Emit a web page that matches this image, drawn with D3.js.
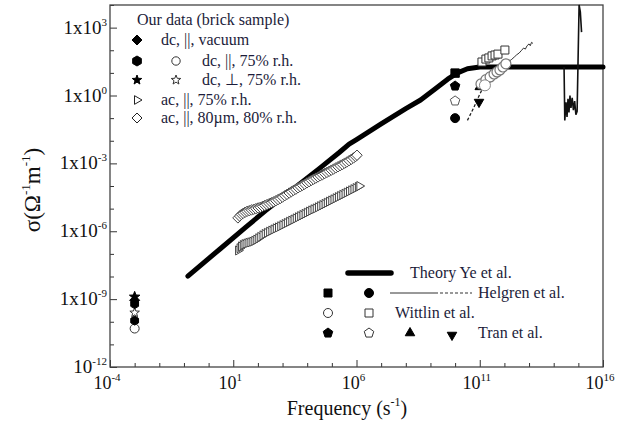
<!DOCTYPE html>
<html><head><meta charset="utf-8">
<script src="https://cdn.jsdelivr.net/npm/d3@7"></script>
<style>body{margin:0;background:#fff} text{font-family:"Liberation Serif","Times New Roman",serif;fill:#111}</style>
</head><body><svg id="c" width="622" height="425"></svg>
<script>
// ---- tick labels ----
const xTickExps = [-4, 1, 6, 11, 16];
const yTickExps = [3, 0, -3, -6, -9, -12];
const yTickPrefix = ["1x10", "1x10", "1x10", "1x10", "1x10", "10"];

// ---- data: [log10 frequency, log10 sigma] ----
const theory = [[-0.84,-7.98],[0.5,-6.75],[1.5,-5.83],[2.3,-5.10],[3.5,-4.08],[4.5,-3.22],[5.3,-2.52],[5.7,-2.15],[6.0,-1.95],[7.0,-1.25],[8.0,-0.58],[8.6,-0.20],[9.2,0.30],[9.7,0.72],[10.1,1.00],[10.5,1.18],[11.0,1.26],[14.45,1.26],[16.0,1.26]];
const theoryResonance = [[14.42,1.26],[14.45,-1.10],[14.50,-0.30],[14.54,-0.95],[14.58,-0.15],[14.62,-0.75],[14.66,0.0],[14.70,-0.55],[14.75,-0.10],[14.80,-0.65],[14.85,-0.25],[14.90,-0.85],[14.95,-0.70],[15.03,4.0],[15.08,3.7],[15.13,2.8]];
const helgrenSolid = [[11.40,0.95],[11.55,1.05],[11.70,1.18],[11.85,1.30],[12.00,1.38],[12.10,1.44],[12.20,1.52],[12.30,1.60],[12.40,1.70],[12.50,1.80],[12.60,1.88],[12.70,2.00],[12.78,2.10],[12.85,2.05],[12.92,2.20],[13.00,2.28],[13.05,2.20],[13.10,2.35],[13.16,2.30]];
const helgrenDashed = [[10.50,-1.10],[10.75,-0.55],[11.00,0.05],[11.20,0.50],[11.40,0.95]];
const ac80 = [[1.19,-5.41],[1.26,-5.33],[1.33,-5.26],[1.40,-5.21],[1.48,-5.16],[1.56,-5.12],[1.65,-5.09],[1.74,-5.06],[1.83,-5.03],[1.92,-5.00],[2.01,-4.97],[2.10,-4.94],[2.19,-4.90],[2.28,-4.86],[2.37,-4.82],[2.46,-4.78],[2.55,-4.74],[2.64,-4.70],[2.73,-4.65],[2.82,-4.60],[2.91,-4.55],[3.00,-4.49],[3.09,-4.43],[3.18,-4.37],[3.27,-4.31],[3.36,-4.25],[3.45,-4.19],[3.54,-4.14],[3.63,-4.08],[3.72,-4.03],[3.81,-3.97],[3.90,-3.92],[3.99,-3.86],[4.08,-3.81],[4.17,-3.75],[4.26,-3.70],[4.35,-3.65],[4.44,-3.60],[4.53,-3.55],[4.62,-3.50],[4.71,-3.45],[4.80,-3.40],[4.89,-3.35],[4.98,-3.30],[5.07,-3.25],[5.16,-3.20],[5.25,-3.15],[5.34,-3.10],[5.43,-3.05],[5.52,-2.99],[5.61,-2.94],[5.70,-2.88],[5.79,-2.82],[5.88,-2.76],[5.96,-2.70],[6.02,-2.64]];
const ac75 = [[1.20,-6.85],[1.26,-6.75],[1.32,-6.67],[1.39,-6.61],[1.46,-6.57],[1.54,-6.54],[1.62,-6.51],[1.70,-6.49],[1.78,-6.46],[1.86,-6.42],[1.94,-6.37],[2.02,-6.31],[2.10,-6.25],[2.19,-6.18],[2.28,-6.12],[2.37,-6.07],[2.46,-6.02],[2.55,-5.97],[2.64,-5.92],[2.73,-5.87],[2.82,-5.83],[2.91,-5.78],[3.00,-5.73],[3.09,-5.68],[3.18,-5.63],[3.27,-5.58],[3.36,-5.53],[3.45,-5.48],[3.54,-5.43],[3.63,-5.38],[3.72,-5.33],[3.81,-5.28],[3.90,-5.23],[3.99,-5.18],[4.08,-5.13],[4.17,-5.08],[4.26,-5.03],[4.35,-4.99],[4.44,-4.94],[4.53,-4.89],[4.62,-4.84],[4.71,-4.79],[4.80,-4.74],[4.89,-4.69],[4.98,-4.64],[5.07,-4.59],[5.16,-4.54],[5.25,-4.49],[5.34,-4.44],[5.43,-4.39],[5.52,-4.34],[5.61,-4.29],[5.70,-4.24],[5.79,-4.19],[5.88,-4.14],[5.97,-4.09],[6.06,-4.04],[6.12,-4.00]];
const dcVacuum = [[-3,-9.05]];
const dcPar75Filled = [[-3,-9.22],[-3,-9.95]];
const dcPar75Open = [[-3,-10.3]];
const dcPerp75Filled = [[-3,-8.9]];
const dcPerp75Open = [[-3,-9.6]];
const helgrenSquares = [[10.0,0.99]];
const helgrenCircles = [[10.0,-1.0]];
const wittlinCircles = [[11.05,0.51],[11.25,0.70],[11.42,0.82],[11.58,0.95],[11.70,1.04],[11.82,1.13],[11.94,1.26],[12.06,1.40]];
const wittlinBigCircle = [[11.21,0.45]];
const wittlinSquares = [[11.09,1.48],[11.25,1.61],[11.37,1.66],[11.50,1.75],[11.62,1.79],[11.74,1.83],[12.02,2.01]];
const tranFilledPent = [[10.0,0.42]];
const tranOpenPent = [[10.0,-0.24]];
const tranTriUp = [[11.0,0.38]];
const tranTriDown = [[10.97,-0.29]];

// ---- chart ----
const svg = d3.select("#c");
const L = 110, R = 603, T = 5, B = 367;
const x = d3.scaleLog().domain([1e-4, 1e16]).range([L, R]);
const y = d3.scaleLog().domain([1e-12, 1e4]).range([B, T]);
const px = d => x(Math.pow(10, d[0]));
const py = d => y(Math.pow(10, d[1]));

function shape(type, r) {
  const poly = (n, rot, inner) => {
    let p = [];
    const m = inner ? 2 * n : n;
    for (let i = 0; i < m; i++) {
      const a = rot + i * 2 * Math.PI / m;
      const rr = inner && i % 2 ? r * inner : r;
      p.push([rr * Math.cos(a), rr * Math.sin(a)]);
    }
    return "M" + p.map(q => q[0].toFixed(2) + "," + q[1].toFixed(2)).join("L") + "Z";
  };
  switch (type) {
    case "circle": return d3.symbol(d3.symbolCircle, Math.PI * r * r)();
    case "square": return `M${-r},${-r}H${r}V${r}H${-r}Z`;
    case "diamond": return `M0,${-r}L${r},0L0,${r}L${-r},0Z`;
    case "triUp": return poly(3, -Math.PI / 2);
    case "triDown": return poly(3, Math.PI / 2);
    case "triRight": return poly(3, 0);
    case "hex": return poly(6, Math.PI / 6);
    case "pent": return poly(5, -Math.PI / 2);
    case "star": return poly(5, -Math.PI / 2, 0.42);
  }
}
function marks(data, type, r, fill, stroke, sw) {
  svg.append("g").selectAll("path").data(data).join("path")
    .attr("d", shape(type, r))
    .attr("transform", d => `translate(${px(d)},${py(d)})`)
    .attr("fill", fill).attr("stroke", stroke).attr("stroke-width", sw || 1);
}

// axes (ticks inward)
const xAxis = d3.axisBottom(x).tickValues(d3.range(-4, 17).map(e => Math.pow(10, e))).tickSizeInner(-4).tickSizeOuter(0).tickFormat("");
const yAxis = d3.axisLeft(y).tickValues(d3.range(-12, 5).map(e => Math.pow(10, e))).tickSizeInner(-4).tickSizeOuter(0).tickFormat("");
const gx = svg.append("g").attr("transform", `translate(0,${B})`).call(xAxis);
const gy = svg.append("g").attr("transform", `translate(${L},0)`).call(yAxis);
[gx, gy].forEach(g => { g.select(".domain").remove(); g.selectAll("line").attr("stroke", "#333").attr("stroke-width", 1); });
gx.selectAll(".tick line").filter(d => xTickExps.includes(Math.round(Math.log10(d)))).attr("y2", -7);
gy.selectAll(".tick line").filter(d => yTickExps.includes(Math.round(Math.log10(d)))).attr("x2", 7);
svg.append("rect").attr("x", L).attr("y", T).attr("width", R - L).attr("height", B - T).attr("fill", "none").attr("stroke", "#444").attr("stroke-width", 1.3);

// x tick labels
xTickExps.forEach(e => {
  const t = svg.append("text").attr("x", x(Math.pow(10, e)) - 3).attr("y", 389).attr("text-anchor", "middle").attr("font-size", 18);
  t.append("tspan").text("10");
  t.append("tspan").attr("dy", -8).attr("font-size", 11).text(e);
});
// y tick labels
yTickExps.forEach((e, i) => {
  const t = svg.append("text").attr("x", 107).attr("y", y(Math.pow(10, e)) + 6).attr("text-anchor", "end").attr("font-size", 19);
  t.append("tspan").text(yTickPrefix[i]);
  t.append("tspan").attr("dy", -8).attr("font-size", 11).text(e);
});
// axis titles
const xt = svg.append("text").attr("x", 347).attr("y", 415).attr("text-anchor", "middle").attr("font-size", 20);
xt.append("tspan").text("Frequency (s");
xt.append("tspan").attr("dy", -9).attr("font-size", 12).text("-1");
xt.append("tspan").attr("dy", 9).text(")");
const yt = svg.append("text").attr("transform", "translate(40,190) rotate(-90)").attr("text-anchor", "middle").attr("font-size", 23);
yt.append("tspan").text("σ(Ω");
yt.append("tspan").attr("dy", -10).attr("font-size", 13).text("-1");
yt.append("tspan").attr("dy", 10).text("m");
yt.append("tspan").attr("dy", -10).attr("font-size", 13).text("-1");
yt.append("tspan").attr("dy", 10).text(")");

// lines
const line = d3.line().x(px).y(py);
svg.append("path").attr("d", line(theory)).attr("fill", "none").attr("stroke", "#000").attr("stroke-width", 5).attr("stroke-linejoin", "round").attr("stroke-linecap", "round");
svg.append("path").attr("d", line(theoryResonance)).attr("fill", "none").attr("stroke", "#111").attr("stroke-width", 1.6);
svg.append("path").attr("d", line(helgrenDashed)).attr("fill", "none").attr("stroke", "#222").attr("stroke-width", 1.3).attr("stroke-dasharray", "3,2");
svg.append("path").attr("d", line(helgrenSolid)).attr("fill", "none").attr("stroke", "#333").attr("stroke-width", 1);

// markers
marks(ac80, "diamond", 5.2, "#fff", "#444", 1);
marks(ac75, "triRight", 5.2, "#fff", "#444", 1);
marks(dcPar75Open, "circle", 4.5, "#fff", "#333", 1);
marks(dcPerp75Open, "star", 5, "#fff", "#333", 1);
marks(dcPar75Filled, "hex", 4.5, "#000", "#000", 1);
marks(dcVacuum, "diamond", 5, "#000", "#000", 1);
marks(dcPerp75Filled, "star", 5.5, "#000", "#000", 1);
marks(wittlinSquares, "square", 4, "#fff", "#333", 1);
marks(tranTriUp, "triUp", 5.5, "#000", "#000", 1);
marks(tranTriDown, "triDown", 5.5, "#000", "#000", 1);
marks(wittlinCircles, "circle", 5, "#fff", "#777", 1.2);
marks(wittlinBigCircle, "circle", 5.5, "#fff", "#888", 1);
marks(helgrenSquares, "square", 4.2, "#000", "#000", 1);
marks(helgrenCircles, "circle", 4.5, "#000", "#000", 1);
marks(tranFilledPent, "pent", 5, "#000", "#000", 1);
marks(tranOpenPent, "pent", 5, "#fff", "#555", 1);

// legend marker (absolute positions)
function lm(cx, cy, type, r, fill, stroke) {
  svg.append("path").attr("d", shape(type, r)).attr("transform", `translate(${cx},${cy})`).attr("fill", fill).attr("stroke", stroke).attr("stroke-width", 1);
}
function lt(tx, ty, s) { svg.append("text").attr("x", tx).attr("y", ty).attr("font-size", 16).style("fill", "#1c1c3a").text(s); }

// top-left legend
lt(137, 25, "Our data (brick sample)");
lm(137, 40, "diamond", 5, "#000", "#000"); lt(161, 45, "dc, ||, vacuum");
lm(137, 61, "hex", 5, "#000", "#000"); lm(176, 61, "circle", 4.2, "#fff", "#333"); lt(202, 66, "dc, ||, 75% r.h.");
lm(137, 80, "star", 5, "#000", "#000"); lm(176, 80, "star", 5, "#fff", "#333"); lt(202, 85, "dc, \u22A5, 75% r.h.");
lm(137, 100, "triRight", 5, "#fff", "#222"); lt(161, 105, "ac, ||,  75% r.h.");
lm(137, 118, "diamond", 5, "#fff", "#222"); lt(161, 123, "ac, ||, 80\u00B5m, 80% r.h.");

// bottom-right legend
svg.append("line").attr("x1", 348).attr("x2", 391).attr("y1", 273).attr("y2", 273).attr("stroke", "#000").attr("stroke-width", 5.5).attr("stroke-linecap", "round");
lt(410, 278, "Theory Ye et al.");
lm(328, 293, "square", 4, "#000", "#000"); lm(369, 293, "circle", 4.5, "#000", "#000");
svg.append("line").attr("x1", 390).attr("x2", 435).attr("y1", 293).attr("y2", 293).attr("stroke", "#333").attr("stroke-width", 1);
svg.append("line").attr("x1", 435).attr("x2", 472).attr("y1", 293).attr("y2", 293).attr("stroke", "#333").attr("stroke-width", 1.2).attr("stroke-dasharray", "3,2");
lt(478, 298, "Helgren et al.");
lm(328, 313, "circle", 4.5, "#fff", "#333"); lm(369, 313, "square", 4, "#fff", "#333");
lt(395, 318, "Wittlin et al.");
lm(328, 333, "pent", 5, "#000", "#000"); lm(369, 333, "pent", 5, "#fff", "#333");
lm(410, 333, "triUp", 5.5, "#000", "#000"); lm(452, 335, "triDown", 5.5, "#000", "#000");
lt(478, 338, "Tran et al.");
</script></body></html>
